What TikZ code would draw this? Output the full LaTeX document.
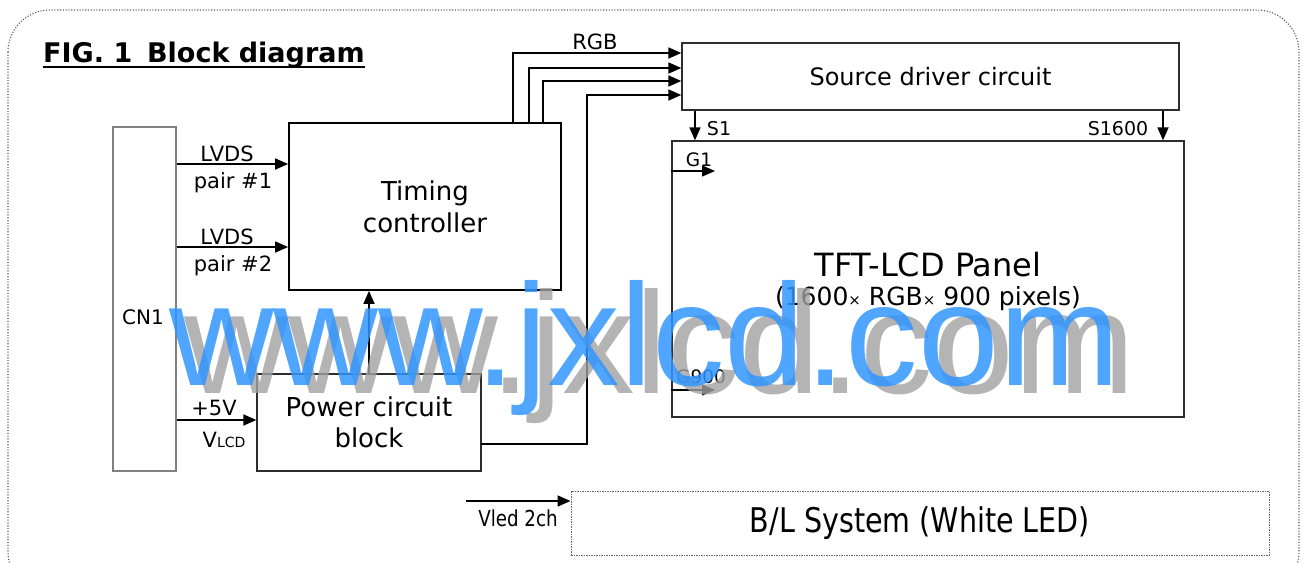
\documentclass[tikz,border=0pt]{standalone}
\usepackage{fontspec}
\usepackage{graphicx}
\setmainfont{DejaVu Sans}
\newfontfamily\markfont{Liberation Sans}
\usetikzlibrary{positioning,arrows.meta}
\definecolor{wmblue}{RGB}{49,149,255}
\definecolor{wmgray}{RGB}{161,161,161}
\definecolor{boxgray}{RGB}{45,45,45}
\newcommand{\txtsize}[1]{\fontsize{#1}{#1}\selectfont}
\begin{document}
\begin{tikzpicture}[x=1pt,y=-1pt,
  blk/.style={draw=boxgray, line width=1.3pt, inner sep=0pt, align=center},
  sig/.style={line width=1.7pt, -{Triangle[length=13pt,width=11pt]}},
  lbl/.style={inner sep=0pt, font=\txtsize{21}}]
\useasboundingbox (0,0) rectangle (1303,562);
\begin{scope}
\clip (0,0) rectangle (1303,562);
\draw[gray!70!black, line width=1.1pt, dash pattern=on 1.1pt off 1.7pt, rounded corners=42pt] (8,10) rectangle (1299,594);
\end{scope}
% title
\node[anchor=base west, inner sep=0pt, font=\bfseries\txtsize{27}] (title) at (43,62) {FIG. 1\hspace{0.55em}Block diagram};
\draw[line width=1.8pt] ([yshift=-5pt]title.base west) -- ([yshift=-5pt]title.base east);
% blocks
\node[blk, draw=gray, minimum width=63pt, minimum height=344pt] (cn1) at (144.5,299) {};
\node[font=\txtsize{20}, inner sep=0pt] (cn1txt) at (143,317) {CN1};
\node[blk, draw=black, line width=1.7pt, minimum width=272pt, minimum height=167pt, font=\txtsize{26}] (tcon) at (425,206.5) {Timing\\[6pt]controller};
\node[blk, minimum width=224pt, minimum height=97pt, font=\txtsize{26}] (pwr) at (369,422.5) {Power circuit\\[5pt]block};
\node[blk, minimum width=497pt, minimum height=67pt, font=\txtsize{24}] (src) at (930.5,76.5) {Source driver circuit};
\node[blk, minimum width=512pt, minimum height=276pt] (lcd) at (928,279) {};
\node[font=\txtsize{32}, inner sep=0pt] (lcdtxt) at (928,265) {TFT-LCD Panel};
\node[font=\txtsize{25}, inner sep=0pt] (lcdsub) at (928,299) {(1600{\txtsize{15}×} RGB{\txtsize{15}×} 900 pixels)};
\node[blk, draw=gray!80!black, line width=1pt, dash pattern=on 1.5pt off 1pt, minimum width=698pt, minimum height=64pt] (bl) at (920,523) {\scalebox{0.84}[1]{\txtsize{34}B/L System (White LED)}};
% coordinates for the bus lines
\coordinate (r1) at (513,53);
\coordinate (r2) at (529,68);
\coordinate (r3) at (543,81);
\coordinate (p1) at (587,95);
\coordinate (pout) at (481,444);
\coordinate (l1) at (176,164);
\coordinate (l2) at (176,247);
\coordinate (v1) at (176,420);
\coordinate (s1) at (695,0);
\coordinate (s2) at (1163,0);
\coordinate (g1) at (715,171);
\coordinate (g2) at (715,390);
\coordinate (vled) at (466,501);
% connectors
\draw[sig] (cn1.east |- l1) -- (tcon.west |- l1);
\draw[sig] (cn1.east |- l2) -- (tcon.west |- l2);
\draw[sig] (cn1.east |- v1) -- (pwr.west |- v1);
\draw[sig] (pwr.north) -- (pwr.north |- tcon.south);
\draw[sig] (r1 |- tcon.north) |- (src.west |- r1);
\draw[sig] (r2 |- tcon.north) |- (src.west |- r2);
\draw[sig] (r3 |- tcon.north) |- (src.west |- r3);
\draw[sig] (pout) -| (p1) -- (src.west |- p1);
\draw[sig] (s1 |- src.south) -- (s1 |- lcd.north);
\draw[sig] (s2 |- src.south) -- (s2 |- lcd.north);
\draw[sig, line width=1.3pt] (lcd.west |- g1) -- (g1);
\draw[sig, line width=1.3pt] (lcd.west |- g2) -- (g2);
\draw[sig] (vled) -- (bl.west |- vled);
% labels
\node[lbl] (lvds1) at (227,154) {LVDS};
\node[lbl] (pair1) at (233,183) {pair \#1};
\node[lbl] (lvds2) at (227,237) {LVDS};
\node[lbl] (pair2) at (233,266) {pair \#2};
\node[lbl] (plus5) at (214,408) {+5V};
\node[lbl] (vlcd) at (224,440) {V{\txtsize{14}LCD}};
\node[lbl] (rgb) at (595,42) {RGB};
\node[lbl, font=\txtsize{19}] (s1txt) at (719,129) {S1};
\node[lbl, font=\txtsize{19}] (s2txt) at (1118,129) {S1600};
\node[lbl, font=\txtsize{18.5}] (g1txt) at (699,160) {G1};
\node[lbl, font=\txtsize{18.5}] (g2txt) at (701,377) {G900};
\node[inner sep=0pt] (vledtxt) at (518,518) {\scalebox{0.83}[1]{\txtsize{22}Vled 2ch}};
% watermark
\node[anchor=base west, inner sep=0pt, text=wmgray, opacity=0.8, font=\markfont\txtsize{145}] (wmshadow) at (184,393) {www.jxlcd.com};
\node[anchor=base west, inner sep=0pt, text=wmblue, opacity=0.85, font=\markfont\txtsize{145}] (wmark) at (169,385) {www.jxlcd.com};
\end{tikzpicture}
\end{document}
